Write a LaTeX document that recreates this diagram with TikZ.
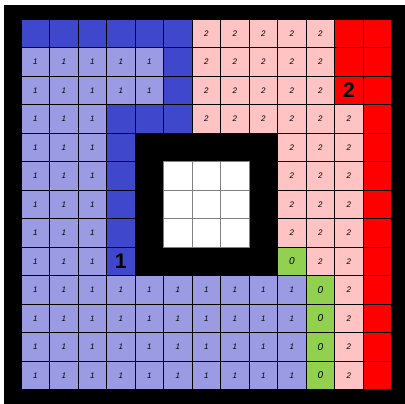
\documentclass[tikz,border=0pt]{standalone}
\usepackage{fontspec}
\setmainfont{Liberation Sans}

\definecolor{darkblue}{RGB}{63,72,204}
\definecolor{lightblue}{RGB}{155,155,228}
\definecolor{lightred}{RGB}{255,195,195}
\definecolor{lightgreen}{RGB}{146,208,80}

\begin{document}
\begin{tikzpicture}[
    cell/.style={draw=black, line width=0.6pt, minimum size=1cm, inner sep=0pt,
      font=\itshape\fontsize{8}{8}\selectfont},
    bluecell/.style={cell, fill=darkblue},
    onecell/.style={cell, fill=lightblue},
    twocell/.style={cell, fill=lightred},
    redcell/.style={cell, fill=red},
    zerocell/.style={cell, fill=lightgreen, font=\itshape\fontsize{10}{10}\selectfont},
    holecell/.style={cell, draw=gray, fill=white},
    bignum/.style={font=\bfseries\fontsize{21}{21}\selectfont}
  ]

  % Frame
  \useasboundingbox (-0.74,-0.49) rectangle (13.47,13.67);
  \fill[black] (-0.6,-0.49) rectangle (13.47,13.5);

  % Dark blue cells
  \foreach \c in {0,...,5}
    \node[bluecell] (cell-\c-0) at (\c+0.5,12.5) {};
  \foreach \r in {1,2}
    \node[bluecell] (cell-5-\r) at (5.5,12.5-\r) {};
  \foreach \c in {3,4,5}
    \node[bluecell] (cell-\c-3) at (\c+0.5,9.5) {};
  \foreach \r in {4,...,7}
    \node[bluecell] (cell-3-\r) at (3.5,12.5-\r) {};
  \node[bluecell, bignum] (cell-3-8) at (3.5,4.5) {\raisebox{-3pt}{1}};

  % Light blue cells
  \foreach \r in {1,2}
    \foreach \c in {0,...,4}
      \node[onecell] (cell-\c-\r) at (\c+0.5,12.5-\r) {1};
  \foreach \r in {3,...,8}
    \foreach \c in {0,1,2}
      \node[onecell] (cell-\c-\r) at (\c+0.5,12.5-\r) {1};
  \foreach \r in {9,...,12}
    \foreach \c in {0,...,9}
      \node[onecell] (cell-\c-\r) at (\c+0.5,12.5-\r) {1};

  % Pink cells
  \foreach \r in {0,...,3}
    \foreach \c in {6,...,10}
      \node[twocell] (cell-\c-\r) at (\c+0.5,12.5-\r) {2};
  \node[twocell] (cell-11-3) at (11.5,9.5) {2};
  \foreach \r in {4,...,7}
    \foreach \c in {9,10,11}
      \node[twocell] (cell-\c-\r) at (\c+0.5,12.5-\r) {2};
  \foreach \c in {10,11}
    \node[twocell] (cell-\c-8) at (\c+0.5,4.5) {2};
  \foreach \r in {9,...,12}
    \node[twocell] (cell-11-\r) at (11.5,12.5-\r) {2};

  % Red cells
  \foreach \r in {0,1}
    \node[redcell] (cell-11-\r) at (11.5,12.5-\r) {};
  \node[redcell, bignum] (cell-11-2) at (11.5,10.5) {2};
  \foreach \r in {0,...,12}
    \node[redcell] (cell-12-\r) at (12.5,12.5-\r) {};

  % Green cells
  \node[zerocell] (cell-9-8) at (9.5,4.5) {0};
  \foreach \r in {9,...,12}
    \node[zerocell] (cell-10-\r) at (10.5,12.5-\r) {0};

  % Wall and hole
  \fill[black] (4,4) rectangle (9,9);
  \foreach \r in {5,6,7}
    \foreach \c in {5,6,7}
      \node[holecell] (cell-\c-\r) at (\c+0.5,12.5-\r) {};

\end{tikzpicture}
\end{document}
